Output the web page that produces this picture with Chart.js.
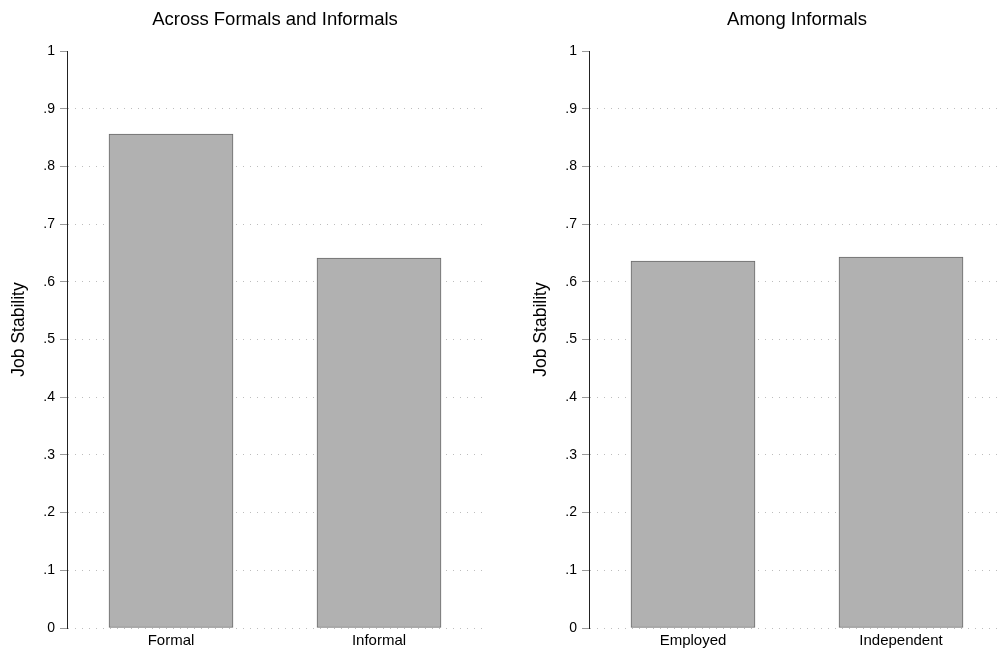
<!DOCTYPE html>
<html>
<head>
<meta charset="utf-8">
<script src="https://cdn.jsdelivr.net/npm/chart.js@4.4.1/dist/chart.umd.min.js"></script>
<style>
  html, body { margin: 0; padding: 0; background: #fff; width: 997px; height: 654px; overflow: hidden; }
  .panel { position: absolute; top: 0; width: 552px; height: 654px; }
</style>
</head>
<body>
<div class="panel" style="left:0"><canvas id="leftChart" width="552" height="654"></canvas></div>
<div class="panel" style="left:522px"><canvas id="rightChart" width="552" height="654"></canvas></div>
<script>
// ── DATA ──
const leftTitle = "Across Formals and Informals";
const leftCategories = ["Formal", "Informal"];
const leftValues = [0.856, 0.641];

const rightTitle = "Among Informals";
const rightCategories = ["Employed", "Independent"];
const rightValues = [0.636, 0.643];

const yAxisLabel = "Job Stability";
const yTicks = [0, 0.1, 0.2, 0.3, 0.4, 0.5, 0.6, 0.7, 0.8, 0.9, 1];

const FONT = "'Liberation Sans', Arial, Helvetica, sans-serif";

// Stata style labels: 0, .1, .2 ... 1
function tickLabel(v) {
  if (v === 0) return "0";
  if (v === 1) return "1";
  return "." + Math.round(v * 10);
}

// Title centred over the plot region (not the canvas) + the rotated y title
const panelText = {
  id: "panelText",
  afterDraw(chart, args, opts) {
    const { ctx, chartArea: a } = chart;
    ctx.save();
    ctx.fillStyle = "#000";
    ctx.textAlign = "center";
    ctx.textBaseline = "middle";
    ctx.font = `18.5px ${FONT}`;
    ctx.fillText(opts.title, (a.left + a.right) / 2, 19.5);
    ctx.translate(19, (a.top + a.bottom) / 2 - 10);
    ctx.rotate(-Math.PI / 2);
    ctx.font = `17.5px ${FONT}`;
    ctx.fillText(opts.yLabel, 0, 0);
    ctx.restore();
  }
};

function makeChart(id, title, categories, values) {
  return new Chart(document.getElementById(id), {
    type: "bar",
    data: {
      labels: categories,
      datasets: [{
        data: values,
        backgroundColor: "#b1b1b1",
        borderColor: "#6a6a6a",
        borderWidth: 1,
        borderSkipped: false,
        barThickness: 124 // whole pixels keep the outline crisp
      }]
    },
    plugins: [panelText],
    options: {
      responsive: false,
      animation: false,
      devicePixelRatio: 1,
      layout: { padding: { left: 0, right: 69, top: 51, bottom: 0 } },
      plugins: {
        legend: { display: false },
        tooltip: { enabled: false },
        title: { display: false },
        panelText: { title: title, yLabel: yAxisLabel }
      },
      scales: {
        x: {
          offset: true,
          afterFit: s => { s.height = 26; },
          grid: { display: false, drawTicks: false },
          border: { display: false },
          ticks: { color: "#000", font: { family: FONT, size: 15 }, padding: 4 }
        },
        y: {
          min: 0,
          max: 1,
          afterFit: s => { s.width = 67; },
          afterBuildTicks: s => { s.ticks = yTicks.map(v => ({ value: v })); },
          grid: {
            color: c => (c.tick && c.tick.value === 1) ? "rgba(0,0,0,0)" : "#bdbdbd",
            lineWidth: 1,
            tickColor: "#9a9a9a",
            tickLength: 7,
            tickWidth: 1,
            tickBorderDash: []
          },
          border: { display: true, color: "#222", width: 1, dash: [1, 6] },
          ticks: {
            color: "#000",
            font: { family: FONT, size: 14 },
            padding: 5,
            callback: v => tickLabel(v)
          },
          title: { display: false }
        }
      }
    }
  });
}

makeChart("leftChart", leftTitle, leftCategories, leftValues);
makeChart("rightChart", rightTitle, rightCategories, rightValues);
</script>
</body>
</html>
